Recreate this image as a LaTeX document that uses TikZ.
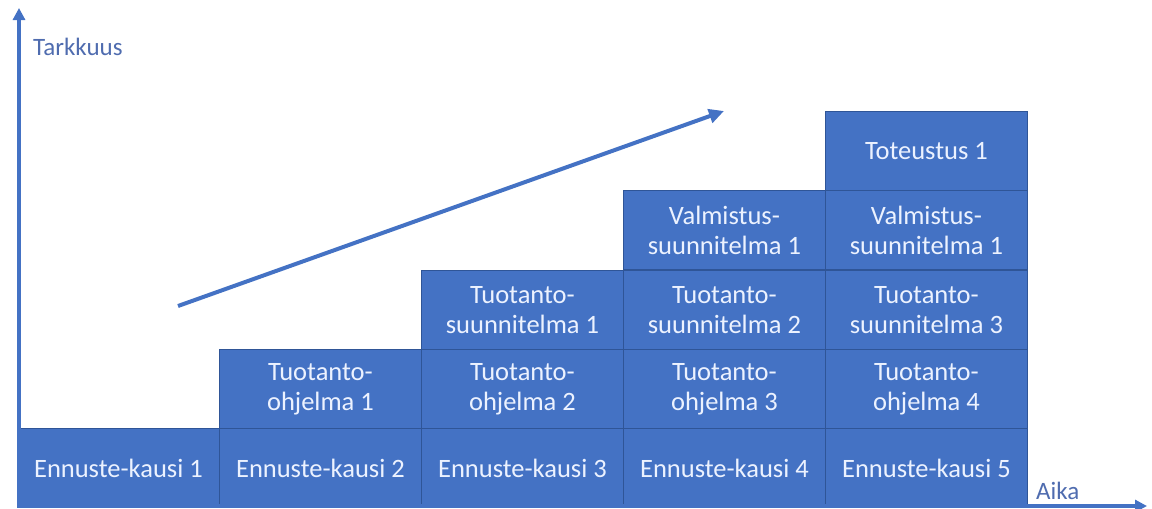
\documentclass[tikz,border=0pt]{standalone}
\usepackage{fontspec}
\setmainfont{Carlito}
\usetikzlibrary{arrows.meta}
\definecolor{cellblue}{RGB}{68,114,196}
\definecolor{gridblue}{RGB}{47,85,151}
\definecolor{celltext}{RGB}{236,242,255}
\definecolor{axisblue}{RGB}{68,114,196}
\definecolor{labelblue}{RGB}{79,108,175}
\begin{document}
\begin{tikzpicture}[x=1pt,y=-1pt,
  cell/.style={draw=gridblue, line width=0.9pt, fill=cellblue, text=celltext,
    minimum width=202pt, minimum height=79pt, inner sep=0pt, align=center,
    anchor=north west, font=\fontsize{26.5}{30}\selectfont},
  axis/.style={draw=axisblue, line width=3.5pt, -{Triangle[length=12pt,width=12pt]}},
  trend/.style={draw=axisblue, line width=4pt, -{Triangle[length=15pt,width=14pt]}},
  axislabel/.style={text=labelblue, inner sep=0pt, anchor=west, font=\fontsize{25}{30}\selectfont}]
\useasboundingbox (0,0) rectangle (1152,509);

% bottom row: forecast periods
\node[cell] (e1) at (17,428)  {Ennuste-kausi 1};
\node[cell] (e2) at (219,428) {Ennuste-kausi 2};
\node[cell] (e3) at (421,428) {Ennuste-kausi 3};
\node[cell] (e4) at (623,428) {Ennuste-kausi 4};
\node[cell] (e5) at (825,428) {Ennuste-kausi 5};

% production programmes
\node[cell] (o1) at (219,349) {Tuotanto-\\ohjelma 1};
\node[cell] (o2) at (421,349) {Tuotanto-\\ohjelma 2};
\node[cell] (o3) at (623,349) {Tuotanto-\\ohjelma 3};
\node[cell] (o4) at (825,349) {Tuotanto-\\ohjelma 4};

% production plans
\node[cell] (s1) at (421,270) {Tuotanto-\\suunnitelma 1};
\node[cell] (s2) at (623,270) {Tuotanto-\\suunnitelma 2};
\node[cell] (s3) at (825,270) {Tuotanto-\\suunnitelma 3};

% manufacturing plans
\node[cell] (v1) at (623,190) {Valmistus-\\suunnitelma 1};
\node[cell] (v2) at (825,190) {Valmistus-\\suunnitelma 1};

% realisation
\node[cell] (t1) at (825,111) {Toteustus 1};

% axes
\coordinate (origin) at (19,506);
\coordinate (ytip) at (19,8);
\coordinate (xstart) at (17,506);
\coordinate (xtip) at (1147,506);
\draw[axis] (origin) -- (ytip);
\draw[axis] (xstart) -- (xtip);

\node[axislabel] (ylab) at (33,47) {Tarkkuus};
\node[axislabel] (xlab) at (1036,491) {Aika};

% growing accuracy
\coordinate (trendstart) at (178,306);
\coordinate (trendend) at (724,111);
\draw[trend] (trendstart) -- (trendend);
\end{tikzpicture}
\end{document}
